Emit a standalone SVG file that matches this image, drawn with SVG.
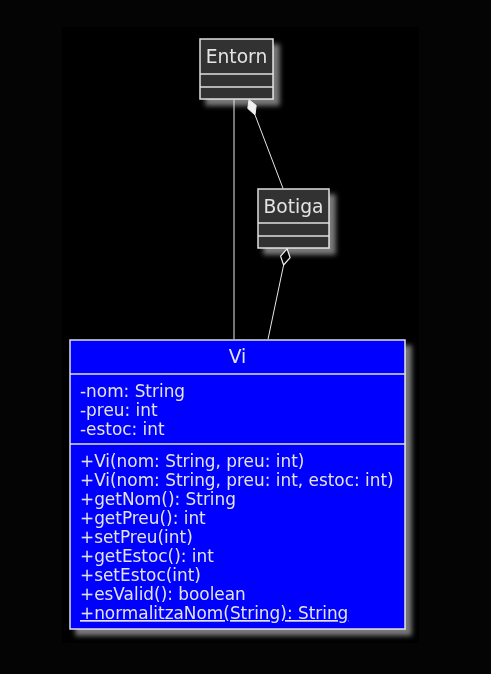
<svg xmlns="http://www.w3.org/2000/svg" width="491" height="674" viewBox="0 0 491 674">
<defs>
<filter id="sh" x="-20%" y="-20%" width="150%" height="150%">
<feGaussianBlur in="SourceAlpha" stdDeviation="2.5"/>
<feOffset dx="6" dy="6" result="b"/>
<feFlood flood-color="#7a7a7a"/>
<feComposite in2="b" operator="in"/>
<feMerge><feMergeNode/><feMergeNode in="SourceGraphic"/></feMerge>
</filter>
</defs>
<style>
.box{stroke:#e0e0e0;stroke-width:1.5}
.g{fill:#333333}
.b{fill:#0000ff}
.sep{stroke:#e0e0e0;stroke-width:1.5}
text{font-family:"DejaVu Sans",sans-serif;fill:#e4e4e4}
.t{font-size:18.7px;text-anchor:middle}
.m{font-size:16.9px}
.c{stroke:#e8e8e8;stroke-width:1;fill:none}
</style>
<rect width="491" height="674" fill="#040404"/>
<rect x="62" y="27" width="357" height="616" fill="#000"/>
<g id="Entorn" filter="url(#sh)">
<rect class="box g" x="200" y="39" width="73" height="60"/>
<line class="sep" x1="200" y1="74" x2="273" y2="74"/>
<line class="sep" x1="200" y1="87" x2="273" y2="87"/>
<text class="t" x="236.5" y="63">Entorn</text>
</g>
<g id="Botiga" filter="url(#sh)">
<rect class="box g" x="258" y="189" width="71" height="59"/>
<line class="sep" x1="258" y1="223" x2="329" y2="223"/>
<line class="sep" x1="258" y1="236" x2="329" y2="236"/>
<text class="t" x="293.5" y="213">Botiga</text>
</g>
<g id="Vi" filter="url(#sh)">
<rect class="box b" x="70" y="340" width="335" height="289"/>
<line class="sep" x1="70" y1="374" x2="405" y2="374"/>
<line class="sep" x1="70" y1="444" x2="405" y2="444"/>
<text class="t" x="237.5" y="363">Vi</text>
<text class="m" x="80" y="397">-nom: String</text>
<text class="m" x="80" y="416">-preu: int</text>
<text class="m" x="80" y="435">-estoc: int</text>
<text class="m" x="80" y="467">+Vi(nom: String, preu: int)</text>
<text class="m" x="80" y="486">+Vi(nom: String, preu: int, estoc: int)</text>
<text class="m" x="80" y="505">+getNom(): String</text>
<text class="m" x="80" y="524">+getPreu(): int</text>
<text class="m" x="80" y="543">+setPreu(int)</text>
<text class="m" x="80" y="562">+getEstoc(): int</text>
<text class="m" x="80" y="581">+setEstoc(int)</text>
<text class="m" x="80" y="600">+esValid(): boolean</text>
<text class="m" x="80" y="619" text-decoration="underline">+normalitzaNom(String): String</text>
</g>
<g id="connectors">
<line class="c" x1="234" y1="99.8" x2="234" y2="339.3"/>
<line class="c" x1="255" y1="114.9" x2="283" y2="188.3"/>
<polygon points="249,99.8 256.2,105.4 255,114.9 247.8,108.5" fill="#f0f0f0" stroke="#f0f0f0" stroke-width="1"/>
<line class="c" x1="283.6" y1="265" x2="268" y2="339.3"/>
<polygon points="287,248.8 290.1,257.6 283.6,265 280.6,256.2" fill="#000" stroke="#f0f0f0" stroke-width="1.2"/>
</g>
</svg>
